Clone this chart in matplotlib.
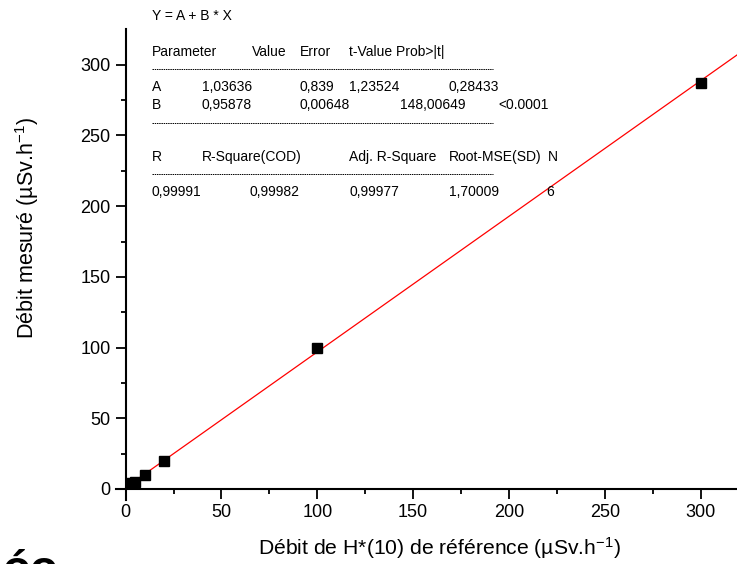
import numpy as np
import matplotlib.pyplot as plt
from matplotlib.lines import Line2D

plt.rcParams['font.family'] = ['Liberation Sans', 'DejaVu Sans']
plt.rcParams['mathtext.fontset'] = 'custom'
plt.rcParams['mathtext.rm'] = 'Liberation Sans'
plt.rcParams['mathtext.it'] = 'Liberation Sans'

# données mesurées
x_ref = [3, 5, 10, 20, 100, 300]
y_mes = [4.5, 5, 10, 20, 100, 287]

# ajustement linéaire Y = A + B * X
A = 1.03636
B = 0.95878

W, H = 737, 564
fig = plt.figure(figsize=(W / 100, H / 100), dpi=100)


def fx(px):
    return px / W


def fy(py):
    return 1 - py / H


ax = fig.add_axes([fx(116.1), fy(500.3), fx(737.9) - fx(116.1), fy(29.4) - fy(500.3)])
ax.set_xlim(-5, 319.5)
ax.set_ylim(-8, 325)

xl = np.array([0, 319.5])
ax.plot(xl, A + B * xl, color='red', lw=0.9, zorder=2)
ax.plot(x_ref, y_mes, 's', color='black', ms=7.5, zorder=3)

ax.spines['left'].set_position(('data', 0))
ax.spines['bottom'].set_position(('data', 0))
ax.spines['top'].set_visible(False)
ax.spines['right'].set_visible(False)
for s in ['left', 'bottom']:
    ax.spines[s].set_linewidth(1.5)

ax.set_xticks([0, 50, 100, 150, 200, 250, 300])
ax.set_xticks([25, 75, 125, 175, 225, 275], minor=True)
ax.set_yticks([0, 50, 100, 150, 200, 250, 300])
ax.set_yticks([25, 75, 125, 175, 225, 275], minor=True)
ax.tick_params(which='major', direction='out', length=7, width=1.3, labelsize=13, pad=4)
ax.tick_params(which='minor', direction='out', length=3.5, width=1.3)

fig.text(fx(27), fy(228), r'Débit mesuré (µSv.h$^{-1}$)', rotation=90,
         ha='center', va='center', fontsize=15.5)
fig.text(fx(439), fy(548), r'Débit de H*(10) de référence (µSv.h$^{-1}$)',
         ha='center', va='center', fontsize=15.2)

# tableau des résultats
fs = 10
rows = [
    (15.7, [(152, 'Y = A + B * X')]),
    (51.7, [(152, 'Parameter'), (251.7, 'Value'), (300, 'Error'), (349.3, 't-Value Prob>|t|')]),
    (87.3, [(152, 'A'), (201.7, '1,03636'), (300, '0,839'), (349.3, '1,23524'), (448.3, '0,28433')]),
    (105, [(152, 'B'), (201.7, '0,95878'), (300, '0,00648'), (400, '148,00649'), (498.3, '<0.0001')]),
    (156.7, [(152, 'R'), (201.7, 'R-Square(COD)'), (349.3, 'Adj. R-Square'), (449.3, 'Root-MSE(SD)'), (547.7, 'N')]),
    (191.7, [(152, '0,99991'), (250, '0,99982'), (349.3, '0,99977'), (449.3, '1,70009'), (546.7, '6')]),
]
for yy, cells in rows:
    for xx, txt in cells:
        fig.text(fx(xx), fy(yy), txt, ha='left', va='center', fontsize=fs)

for yy in [69.3, 122.7, 174]:
    fig.add_artist(Line2D([fx(152), fx(493)], [fy(yy), fy(yy)], color='black',
                          lw=0.7, linestyle=(0, (1.5, 0.8))))

# caractères tronqués en bas à gauche (coupés dans l'original)
fig.text(fx(2), fy(583), 'óo', ha='left', va='baseline', fontsize=33, fontweight='bold')

fig.savefig('out.png', dpi=100)
